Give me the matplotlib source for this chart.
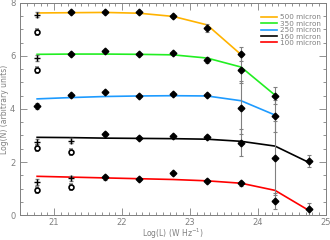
import matplotlib
matplotlib.use("Agg")
import matplotlib.pyplot as plt
import numpy as np
from matplotlib.ticker import MultipleLocator

# === Data ===
lum = [20.75, 21.25, 21.75, 22.25, 22.75, 23.25, 23.75, 24.25, 24.75]

labels = ['500 micron', '350 micron', '250 micron', '160 micron', '100 micron']
colors = ['#ffb300', '#22ee22', '#1e9bff', '#000000', '#ff0000']

# model curves
line_500 = [7.62, 7.63, 7.64, 7.61, 7.49, 7.17, 6.05]
line_350 = [6.06, 6.07, 6.07, 6.06, 6.04, 5.92, 5.58, 4.52]
line_250 = [4.38, 4.43, 4.47, 4.49, 4.50, 4.49, 4.31, 3.77]
line_160 = [2.93, 2.92, 2.90, 2.89, 2.88, 2.86, 2.78, 2.60, 1.98]
line_100 = [1.46, 1.43, 1.40, 1.37, 1.34, 1.29, 1.20, 0.93, 0.17]

# measured points (filled diamonds)
x_500 = [21.25, 21.75, 22.25, 22.75, 23.25, 23.75]
y_500 = [7.65, 7.65, 7.65, 7.49, 7.07, 6.07]
e_500 = [0.05, 0.05, 0.05, 0.05, 0.15, 0.28]

x_350 = [21.25, 21.75, 22.25, 22.75, 23.25, 23.75, 24.25]
y_350 = [6.07, 6.19, 6.07, 6.11, 5.85, 5.48, 4.50]
e_350 = [0.05, 0.05, 0.05, 0.05, 0.10, 0.50, 0.33]

x_250 = [20.75, 21.25, 21.75, 22.25, 22.75, 23.25, 23.75, 24.25]
y_250 = [4.11, 4.53, 4.64, 4.49, 4.57, 4.53, 4.04, 3.74]
e_250 = [0.10, 0.05, 0.05, 0.05, 0.05, 0.05, 1.00, 0.60]

x_160 = [21.75, 22.25, 22.75, 23.25, 23.75, 24.25, 24.75]
y_160 = [3.05, 2.92, 2.98, 2.95, 2.73, 2.16, 2.04]
e_160 = [0.08, 0.05, 0.05, 0.05, 0.50, 1.40, 0.24]

x_100 = [21.75, 22.25, 22.75, 23.25, 23.75, 24.25, 24.75]
y_100 = [1.42, 1.35, 1.57, 1.30, 1.20, 0.54, 0.21]
e_100 = [0.08, 0.05, 0.05, 0.05, 0.10, 0.30, 0.25]

# low-luminosity extra points
plus_x = [20.75, 20.75, 20.75, 20.75, 21.25, 21.25]
plus_y = [7.55, 5.92, 2.77, 1.25, 2.80, 1.39]
open_x = [20.75, 20.75, 20.75, 20.75, 21.25, 21.25]
open_y = [6.90, 5.47, 2.53, 0.94, 2.38, 1.06]

# === Plotting ===
gray = '#808080'
fig = plt.figure(figsize=(3.3, 2.4), dpi=100)
ax = fig.add_axes([0.061, 0.104, 0.927, 0.884])

lines = [line_500, line_350, line_250, line_160, line_100]
for ly, c, lab in zip(lines, colors, labels):
    ax.plot(lum[:len(ly)], ly, color=c, lw=1.2, label=lab, zorder=2)

pts = [(x_500, y_500, e_500), (x_350, y_350, e_350), (x_250, y_250, e_250),
       (x_160, y_160, e_160), (x_100, y_100, e_100)]
for px, py, pe in pts:
    ax.errorbar(px, py, yerr=pe, fmt='none', ecolor=gray, elinewidth=0.8,
                capsize=1.5, capthick=0.8, zorder=3)
    ax.plot(px, py, 'D', color='k', ms=3.4, zorder=4)

ax.errorbar(plus_x, plus_y, yerr=0.1, fmt='+', color='k', ms=4, mew=1.0,
            ecolor=gray, elinewidth=0.8, capsize=1.5, zorder=4)
ax.errorbar(open_x, open_y, yerr=0.1, fmt='o', mfc='white', mec='k', ms=3.5, mew=1.2,
            ecolor=gray, elinewidth=0.8, capsize=1.5, zorder=4)

ax.set_xlim(20.5, 25.0)
ax.set_ylim(0, 8)
ax.xaxis.set_major_locator(MultipleLocator(1))
ax.xaxis.set_minor_locator(MultipleLocator(0.1))
ax.yaxis.set_major_locator(MultipleLocator(2))
ax.yaxis.set_minor_locator(MultipleLocator(0.5))
ax.tick_params(which='both', direction='in', top=True, right=True, colors=gray,
               labelsize=6, width=0.6)
ax.tick_params(which='major', length=5)
ax.tick_params(which='minor', length=2.5)
ax.tick_params(axis='x', pad=2)
for s in ax.spines.values():
    s.set_color(gray)
    s.set_linewidth(0.7)

ax.set_xlabel("Log(L) (W Hz$^{-1}$)", fontsize=5.5, color=gray, labelpad=0)
ax.set_ylabel("Log(N) (arbitrary units)", fontsize=5.5, color=gray, labelpad=1)

leg = ax.legend(loc='upper right', bbox_to_anchor=(1.0, 0.97), frameon=False,
                fontsize=5.2, handlelength=2.3, labelspacing=0.05, handletextpad=0.4,
                borderpad=0.2)
for t in leg.get_texts():
    t.set_color(gray)

fig.savefig('out.png', dpi=100)
